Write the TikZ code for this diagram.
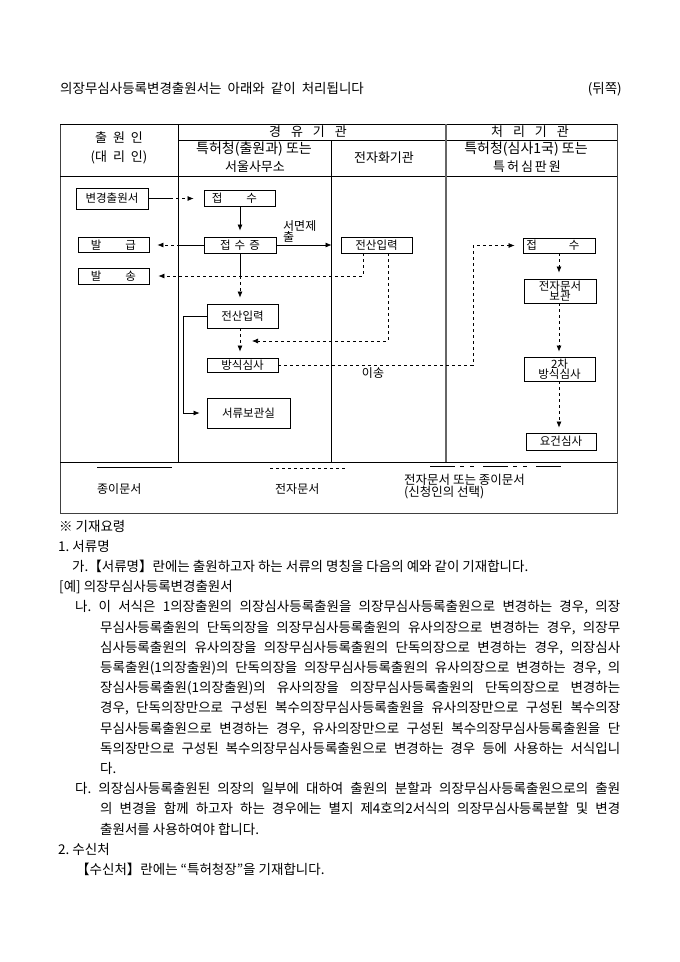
\documentclass[tikz,border=0pt]{standalone}
\usepackage{fontspec}
\setmainfont{Noto Sans CJK KR}
\usetikzlibrary{arrows.meta}
\begin{document}
\frenchspacing
\begin{tikzpicture}[x=1pt,y=-1pt,
  box/.style={draw, line width=0.8pt, inner sep=0pt, font=\fontsize{11.5}{11.5}\selectfont, align=center},
  tx/.style={inner sep=0pt, anchor=base west, font=\fontsize{13.5}{13.5}\selectfont},
  hd/.style={inner sep=0pt, font=\fontsize{13}{13}\selectfont},
  lg/.style={inner sep=0pt, anchor=west, font=\fontsize{12}{12}\selectfont, align=left},
  sln/.style={line width=0.7pt},
  dln/.style={line width=0.7pt, dash pattern=on 3pt off 3pt},
  tip/.style={-{Latex[length=6pt,width=5pt]}},
]
\useasboundingbox (0,0) rectangle (680,962);
% title
\node[tx] (title) at (60,93) {\spaceskip=6pt 의장무심사등록변경출원서는 아래와 같이 처리됩니다};
\node[tx, anchor=base east] (back) at (622,93) {(뒤쪽)};
% table frame
\draw[line width=0.9pt, draw=black!75] (60,124) rectangle (617,513);
\draw[line width=0.8pt] (60,124) -- (617,124);
\draw[line width=0.7pt] (178,140) -- (617,140);
\draw[line width=0.8pt] (60,176) -- (617,176);
\draw[line width=0.8pt] (60,462) -- (617,462);
\draw[line width=0.8pt] (178,124) -- (178,462);
\draw[line width=0.8pt] (331,140) -- (331,462);
\draw[line width=1.2pt, draw=black!60] (446,124) -- (446,462);
% header texts
\node[hd] (h1a) at (119,138) {출\hspace{6pt}원\hspace{6pt}인};
\node[hd] (h1b) at (119,157) {(대\hspace{6pt}리\hspace{6pt}인)};
\node[hd] (h2) at (308,132) {경\hspace{10pt}유\hspace{10pt}기\hspace{10pt}관};
\node[hd] (h3) at (530,132) {처\hspace{10pt}리\hspace{10pt}기\hspace{10pt}관};
\node[hd, font=\fontsize{14}{14}\selectfont] (h2a) at (254,149.5) {특허청(출원과) 또는};
\node[hd] (h2b) at (255,167) {서울사무소};
\node[hd] (h2c) at (384,158) {전자화기관};
\node[hd, font=\fontsize{14}{14}\selectfont] (h3a) at (526,149.5) {특허청(심사1국) 또는};
\node[hd] (h3b) at (527,167) {특\hspace{2pt}허\hspace{2pt}심\hspace{2pt}판\hspace{2pt}원};
% boxes
\node[box, minimum width=72pt, minimum height=21pt] (bg) at (112,198.5) {변경출원서};
\node[box, minimum width=71pt, minimum height=16pt] (js1) at (239.5,198) {접\hspace{24pt}수\hspace{10pt}};
\node[box, minimum width=72pt, minimum height=16pt] (jsz) at (240,245) {접\hspace{4pt}수\hspace{4pt}증};
\node[box, minimum width=71pt, minimum height=15pt] (bg1) at (113.5,245) {발\hspace{24pt}급};
\node[box, minimum width=71pt, minimum height=16pt] (bs) at (113.5,276) {발\hspace{24pt}송};
\node[box, minimum width=71pt, minimum height=16pt] (ji1) at (376.5,245) {전산입력};
\node[box, minimum width=71pt, minimum height=24pt] (ji2) at (242.5,316) {전산입력};
\node[box, minimum width=71pt, minimum height=14pt] (bss) at (242.5,365) {방식심사};
\node[box, minimum width=83pt, minimum height=30pt] (sr) at (248.5,413) {서류보관실};
\node[box, minimum width=72pt, minimum height=15pt] (jsR) at (559,245.5) {접\hspace{32pt}수\hspace{12pt}};
\node[box, minimum width=72pt, minimum height=24pt, font=\fontsize{11.5}{10.5}\selectfont] (jdb) at (560,291) {전자문서\\보관};
\node[box, minimum width=71pt, minimum height=24pt, font=\fontsize{11.5}{10.5}\selectfont] (bss2) at (559.5,369) {2차\\방식심사};
\node[box, minimum width=70pt, minimum height=17pt] (yg) at (561,441.5) {요건심사};
% connectors
\draw[sln] (bg.east) -- ++(22pt,0) coordinate (c1);
\draw[dln, tip, shorten >=10pt] (c1) -- (js1.west |- c1);
\draw[sln, tip, shorten >=6pt] (jsz.north |- js1.south) -- (jsz.north);
\draw[sln] (jsz.west) -- ++(-24pt,0) coordinate (c3);
\draw[dln, tip, shorten >=8pt] (c3) -- (bg1.east |- c3);
\draw[sln, tip, shorten >=9pt] (jsz.east) -- (ji1.west);
\node[lg, anchor=north west, font=\fontsize{12}{11.5}\selectfont] (smj) at (283,220) {서면제\\출};
\coordinate (c5) at (jsz.south |- bs.east);
\draw[sln] (jsz.south) -- (c5);
\draw[dln, tip, shorten >=6pt] (c5) -- (jsz.south |- ji2.north);
\draw[dln, tip, shorten >=9pt] ([xshift=-13.5pt]ji1.south) |- (bs.east);
\coordinate (t2) at (252,341);
\draw[dln, tip] ([xshift=11.5pt]ji1.south) |- (t2);
\draw[dln, tip, shorten >=6pt] (jsz.south |- ji2.south) -- (jsz.south |- bss.north);
\coordinate (turn) at (473,365);
\draw[dln, tip, shorten >=8pt] (bss.east) -- (turn) |- (jsR.west);
\node[hd, font=\fontsize{12}{12}\selectfont] (is) at (373,373) {이송};
\draw[sln, tip, shorten >=7pt] (ji2.west) -| ([xshift=-23pt]ji2.west |- sr.west) -- (sr.west);
\draw[dln, tip, shorten >=6pt] (jsR.south) -- (jsR.south |- jdb.north);
\draw[dln, tip, shorten >=5pt] (jsR.south |- jdb.south) -- (jsR.south |- bss2.north);
\draw[dln, tip, shorten >=5pt] (jsR.south |- bss2.south) -- (jsR.south |- yg.north);
% legend
\draw[sln] (97,467) -- (172,467);
\draw[dln] (270,468) -- (347,468);
\draw[sln, dash pattern=on 25pt off 5pt on 4pt off 6pt on 4pt off 9pt] (430,466) -- (561,466);
\node[lg] (lg1) at (97,489) {종이문서};
\node[lg] (lg2) at (275,489) {전자문서};
\node[lg, anchor=north west, font=\fontsize{12.5}{11}\selectfont] (lg3) at (404,474) {전자문서 또는 종이문서\\(신청인의 선택)};
% notes
\node[tx] (n0) at (59,531) {※ 기재요령};
\node[tx] (n1) at (58,551.2) {1. 서류명};
\node[tx] (n2) at (72,571.4) {가.【서류명】란에는 출원하고자 하는 서류의 명칭을 다음의 예와 같이 기재합니다.};
\node[tx] (n3) at (59,591.6) {[예] 의장무심사등록변경출원서};
\node[tx] (n4) at (75,611.8) {\makebox[545pt][s]{나. 이 서식은 1의장출원의 의장심사등록출원을 의장무심사등록출원으로 변경하는 경우, 의장}};
\node[tx] (n5) at (100,632) {\makebox[520pt][s]{무심사등록출원의 단독의장을 의장무심사등록출원의 유사의장으로 변경하는 경우, 의장무}};
\node[tx] (n6) at (100,652.2) {\makebox[520pt][s]{심사등록출원의 유사의장을 의장무심사등록출원의 단독의장으로 변경하는 경우, 의장심사}};
\node[tx] (n7) at (100,672.4) {\makebox[520pt][s]{등록출원(1의장출원)의 단독의장을 의장무심사등록출원의 유사의장으로 변경하는 경우, 의}};
\node[tx] (n8) at (100,692.6) {\makebox[520pt][s]{장심사등록출원(1의장출원)의 유사의장을 의장무심사등록출원의 단독의장으로 변경하는}};
\node[tx] (n9) at (100,712.8) {\makebox[520pt][s]{경우, 단독의장만으로 구성된 복수의장무심사등록출원을 유사의장만으로 구성된 복수의장}};
\node[tx] (n10) at (100,733) {\makebox[520pt][s]{무심사등록출원으로 변경하는 경우, 유사의장만으로 구성된 복수의장무심사등록출원을 단}};
\node[tx] (n11) at (100,753.2) {\makebox[520pt][s]{독의장만으로 구성된 복수의장무심사등록출원으로 변경하는 경우 등에 사용하는 서식입니}};
\node[tx] (n12) at (100,773.4) {다.};
\node[tx] (n13) at (75,793.6) {\makebox[545pt][s]{다. 의장심사등록출원된 의장의 일부에 대하여 출원의 분할과 의장무심사등록출원으로의 출원}};
\node[tx] (n14) at (100,813.8) {\makebox[520pt][s]{의 변경을 함께 하고자 하는 경우에는 별지 제4호의2서식의 의장무심사등록분할 및 변경}};
\node[tx] (n15) at (100,834) {출원서를 사용하여야 합니다.};
\node[tx] (n16) at (58,854.2) {2. 수신처};
\node[tx] (n17) at (76,874.4) {【수신처】란에는 “특허청장”을 기재합니다.};
\end{tikzpicture}
\end{document}
